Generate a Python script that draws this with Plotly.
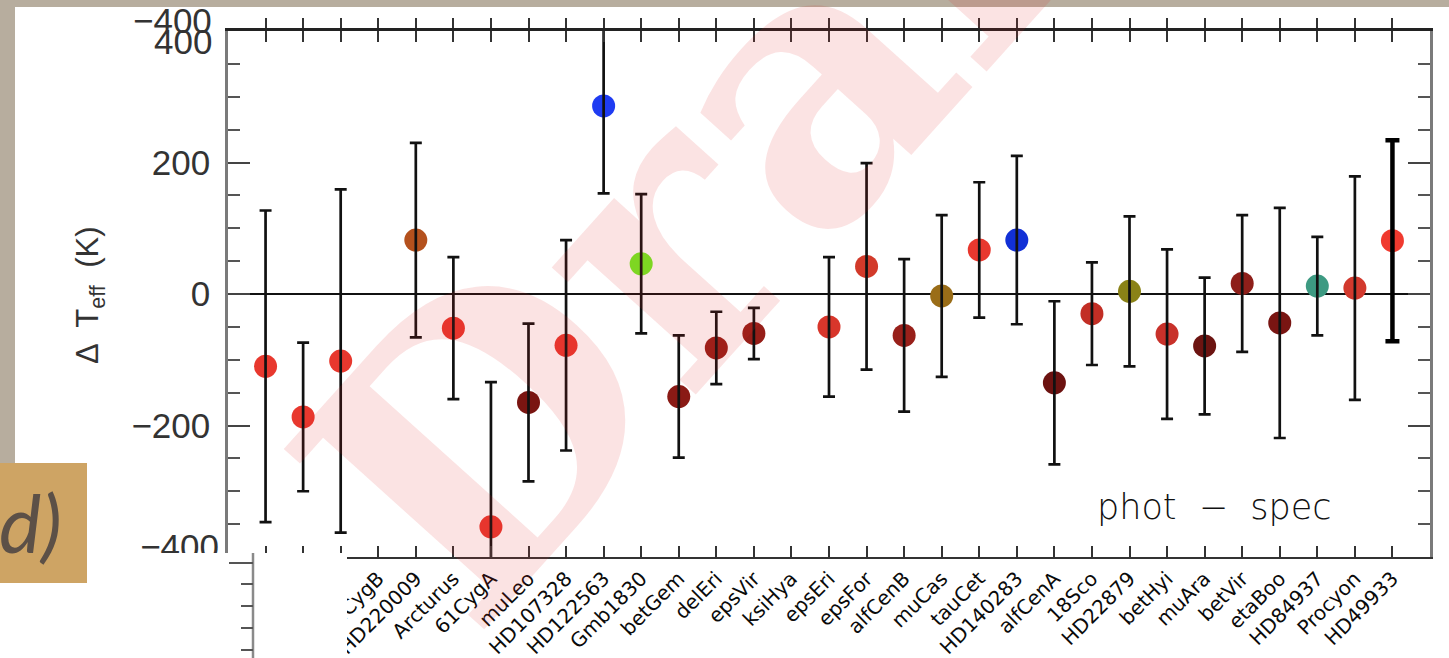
import plotly.graph_objects as go

# Benchmark stars (ordered by Teff) and photometric minus spectroscopic Teff
stars = ["alfCet", "gamSge", "alfTau", "61CygB", "HD220009", "Arcturus", "61CygA",
         "muLeo", "HD107328", "HD122563", "Gmb1830", "betGem", "delEri", "epsVir",
         "ksiHya", "epsEri", "epsFor", "alfCenB", "muCas", "tauCet", "HD140283",
         "alfCenA", "18Sco", "HD22879", "betHyi", "muAra", "betVir", "etaBoo",
         "HD84937", "Procyon", "HD49933"]
dteff = [-110, -187, -102, None, 82, -52, -354,
         -165, -78, 286, 46, -156, -82, -60,
         None, -50, 42, -63, -3, 67, 82,
         -135, -30, 4, -61, -79, 16, -44,
         12, 9, 81]
dteff_err = [237, 113, 261, None, 148, 108, 220,
             120, 160, 133, 106, 93, 55, 39,
             None, 106, 157, 116, 123, 103, 128,
             124, 78, 114, 129, 104, 104, 175,
             75, 170, 153]
colors = ["#e8382e", "#e8382e", "#e8382e", "#e8382e", "#b4511d", "#e8382e", "#e8382e",
          "#7a1511", "#e8382e", "#1f3cf2", "#70f022", "#8a1a15", "#961e18", "#961e18",
          "#961e18", "#d8362b", "#d23a2a", "#98201a", "#9a6d18", "#e8382e", "#1230d6",
          "#6c1210", "#c22e25", "#8a8217", "#c8312a", "#6c1411", "#8e1f1a", "#791512",
          "#3d9a82", "#d2392d", "#f03a2f"]
y_ticks = [-400, -200, 0, 200, 400]
y_ticktext = ["", "\u2212200", "0", "200", ""]

idx = list(range(len(stars)))

# plot-area geometry in pixels, used to place the decorations around the panel
L, R, T, B = 228, 1430, 31, 557
W, H = R - L, B - T


def px(x):
    return (x - L) / W


def py(y):
    return (B - y) / H


fig = go.Figure()

# coloured points
fig.add_trace(go.Scatter(
    x=idx, y=dteff, mode="markers",
    marker=dict(color=colors, size=23, line=dict(width=0)),
    hoverinfo="skip", showlegend=False))

# error bars drawn over the points
fig.add_trace(go.Scatter(
    x=idx[:-1], y=dteff[:-1], mode="markers",
    marker=dict(size=2, opacity=0),
    error_y=dict(type="data", array=dteff_err[:-1], visible=True,
                 color="#111111", thickness=2.7, width=6),
    hoverinfo="skip", showlegend=False))
fig.add_trace(go.Scatter(
    x=idx[-1:], y=dteff[-1:], mode="markers",
    marker=dict(size=2, opacity=0),
    error_y=dict(type="data", array=dteff_err[-1:], visible=True,
                 color="#000000", thickness=4.5, width=7),
    hoverinfo="skip", showlegend=False))

# helper trace for the overlaid axes (top ticks and the shifted -400 label)
fig.add_trace(go.Scatter(x=[None], y=[None], xaxis="x2", yaxis="y2",
                         hoverinfo="skip", showlegend=False))

tickfont = dict(family="Liberation Sans, Arial, sans-serif", size=35, color="#333333")

fig.update_layout(
    width=1449, height=658,
    margin=dict(l=L, r=1449 - R, t=T, b=658 - B, pad=0),
    paper_bgcolor="white",
    plot_bgcolor="white",
    showlegend=False,
    xaxis=dict(
        range=[-1, 31], tickmode="array", tickvals=idx, ticktext=stars,
        tickangle=-45, tickfont=dict(family="DejaVu Sans", size=20, color="#0a0a0a"),
        ticks="inside", ticklen=11, tickwidth=2, tickcolor="#333333",
        showline=True, linecolor="#333333", linewidth=2, mirror="ticks",
        showgrid=False, zeroline=False, automargin=False),
    yaxis=dict(
        range=[-400, 400], tickmode="array", tickvals=y_ticks, ticktext=y_ticktext,
        tickfont=tickfont, ticklabelstandoff=8,
        ticks="inside", ticklen=22, tickwidth=2, tickcolor="#444444",
        minor=dict(tickmode="linear", tick0=0, dtick=50, ticks="inside",
                   ticklen=12, tickwidth=2, tickcolor="#555555", showgrid=False),
        showline=True, linecolor="#7a7a7a", linewidth=2.5, mirror="ticks",
        showgrid=False, zeroline=True, zerolinecolor="#111111", zerolinewidth=2,
        automargin=False),
    xaxis2=dict(
        range=[-1, 31], overlaying="x", anchor="y2", side="top",
        tickmode="array", tickvals=idx, showticklabels=False,
        ticks="outside", ticklen=10, tickwidth=2, tickcolor="#333333",
        showline=True, linecolor="#222222", linewidth=3,
        showgrid=False, zeroline=False, automargin=False),
    yaxis2=dict(
        range=[-415, 385], overlaying="y", anchor="x2", side="left",
        tickmode="array", tickvals=[-400], ticktext=["\u2212400"],
        tickfont=tickfont, ticklabelstandoff=8, ticks="",
        showline=False, showgrid=False, zeroline=False, automargin=False),
)

bg = "#b7ad9e"
shapes = [
    # slide background around the white panel
    dict(type="rect", xref="paper", yref="paper", layer="below",
         x0=px(-20), x1=px(1470), y0=py(-20), y1=py(7),
         fillcolor=bg, line=dict(width=0)),
    dict(type="rect", xref="paper", yref="paper", layer="below",
         x0=px(-20), x1=px(15), y0=py(-20), y1=py(463),
         fillcolor=bg, line=dict(width=0)),
    # panel tag box
    dict(type="rect", xref="paper", yref="paper", layer="above",
         x0=px(-10), x1=px(87), y0=py(463), y1=py(583),
         fillcolor="#cea464", line=dict(width=0)),
    # lower panel strip
    dict(type="rect", xref="paper", yref="paper", layer="above",
         x0=px(88), x1=px(347), y0=py(553), y1=py(700),
         fillcolor="white", line=dict(width=0)),
    dict(type="line", xref="paper", yref="paper", layer="above",
         x0=px(253), x1=px(253), y0=py(553), y1=py(700),
         line=dict(color="#8a8a8a", width=2.5)),
]
for yy, x_start in [(563, 229), (584, 241), (606, 241), (628, 241), (650, 241)]:
    shapes.append(dict(type="line", xref="paper", yref="paper", layer="above",
                       x0=px(x_start), x1=px(253), y0=py(yy), y1=py(yy),
                       line=dict(color="#555555", width=2)))
fig.update_layout(shapes=shapes)

annotations = [
    # watermark
    dict(text="<b>Draft</b>", xref="paper", yref="paper", x=px(740), y=py(151),
         showarrow=False, textangle=-48, xanchor="center", yanchor="middle",
         font=dict(family="DejaVu Serif", size=370, color="rgba(225,40,40,0.13)")),
    # extreme y labels
    dict(text="\u2212400", xref="paper", yref="paper", x=px(214), y=py(20),
         showarrow=False, xanchor="right", yanchor="middle", font=tickfont),
    dict(text="400", xref="paper", yref="paper", x=px(214), y=py(41),
         showarrow=False, xanchor="right", yanchor="middle", font=tickfont),
    # y-axis title
    dict(text="\u0394  T<sub>eff</sub>  (K)", xref="paper", yref="paper",
         x=px(90), y=py(296), showarrow=False, textangle=-90,
         xanchor="center", yanchor="middle",
         font=dict(family="Liberation Sans, Arial, sans-serif", size=31, color="#333333")),
    # panel label
    dict(text="phot  \u2212  spec", xref="paper", yref="paper",
         x=px(1214), y=py(507), showarrow=False, xanchor="center", yanchor="middle",
         font=dict(family="DejaVu Sans", size=35, color="#111111", weight=200)),
    dict(text="<i>d)</i>", xref="paper", yref="paper",
         x=px(30), y=py(522), showarrow=False, xanchor="center", yanchor="middle",
         font=dict(family="Lato", size=80, color="#5c5047")),
]
fig.update_layout(annotations=annotations)

fig.write_html("out.html")
